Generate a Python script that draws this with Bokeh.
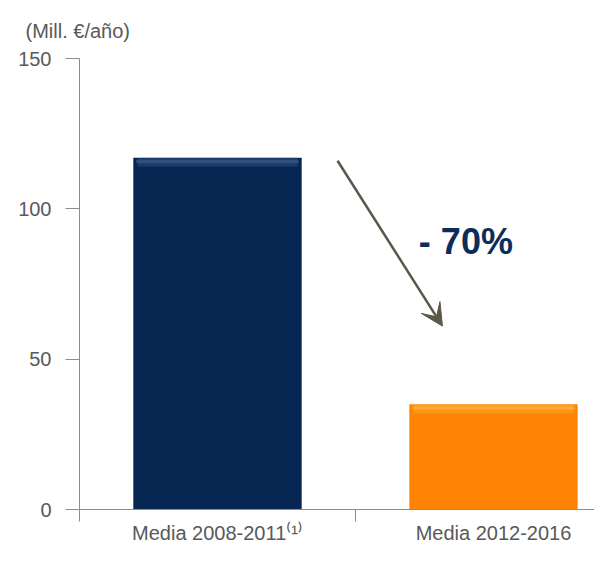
from bokeh.plotting import figure
from bokeh.models import Arrow, VeeHead, FixedTicker, Range1d, ColumnDataSource
from bokeh.core.properties import value
from bokeh.embed import file_html
from bokeh.resources import INLINE

categories = ["Media 2008-2011\u207d\u00b9\u207e", "Media 2012-2016"]
values = [117, 35]
bar_colors = ["#062550", "#ff8405"]
bevel_colors = ["#4a6d9e", "#ffc24a"]
unit_label = "(Mill. €/año)"
change_label = "- 70%"
y_ticks = [0, 50, 100, 150]

FONT = "Liberation Sans"
GREY_TXT = "#595959"
GREY_AX = "#8c8c8c"

xs = [i + 0.5 for i in range(len(categories))]

p = figure(width=594, height=546, output_backend="svg", toolbar_location=None,
           x_range=Range1d(0, 1.866), y_range=Range1d(0, 150),
           min_border_left=79, min_border_right=0, min_border_top=58, min_border_bottom=35)
p.outline_line_color = None
p.xgrid.visible = False
p.ygrid.visible = False

src = ColumnDataSource(dict(x=xs, top=values, color=bar_colors, bevel=bevel_colors,
                            b1=[v - 3.0 for v in values], b2=[v - 1.8 for v in values],
                            t2=[v - 0.7 for v in values]))
p.vbar(x="x", top="top", width=0.61, color="color", source=src, line_color=None)
p.vbar(x="x", bottom="b1", top="top", width=0.58, color="bevel", alpha=0.3,
       source=src, line_color=None)
p.vbar(x="x", bottom="b2", top="t2", width=0.59, color="bevel", alpha=0.45,
       source=src, line_color=None)

# unit label as title
p.title.text = unit_label
p.title.align = "left"
p.title.offset = -54
p.title.standoff = 34
p.title.text_font = FONT
p.title.text_font_size = "20px"
p.title.text_font_style = "normal"
p.title.text_color = GREY_TXT

# y axis
ya = p.yaxis[0]
ya.ticker = FixedTicker(ticks=y_ticks)
ya.axis_line_color = GREY_AX
ya.major_tick_line_color = GREY_AX
ya.major_tick_out = 14
ya.major_tick_in = 0
ya.minor_tick_line_color = None
ya.major_label_text_font = FONT
ya.major_label_text_font_size = "20px"
ya.major_label_text_color = GREY_TXT
ya.major_label_standoff = 14

# x axis
xa = p.xaxis[0]
xa.ticker = FixedTicker(ticks=xs, minor_ticks=[0, 1, 2])
xa.major_label_overrides = {x: c for x, c in zip(xs, categories)}
xa.axis_line_color = GREY_AX
xa.major_tick_line_color = None
xa.major_tick_out = 0
xa.major_tick_in = 0
xa.minor_tick_line_color = GREY_AX
xa.minor_tick_out = 12
xa.minor_tick_in = 0
xa.major_label_text_font = FONT
xa.major_label_text_font_size = "20px"
xa.major_label_text_color = GREY_TXT
xa.major_label_standoff = 0

# arrow and change label
p.add_layout(Arrow(x_start=0.935, y_start=116, x_end=1.315, y_end=61,
                   line_color="#5b5749", line_width=2.5,
                   end=VeeHead(size=22, fill_color="#5b5749", line_color="#5b5749")))
p.text(x=[1.40], y=[89], text=[change_label], text_font=value(FONT),
       text_font_size="36px", text_font_style="bold", text_color="#0c2d5a",
       text_align="center", text_baseline="middle")

open("out.html", "w").write(file_html(p, INLINE))
